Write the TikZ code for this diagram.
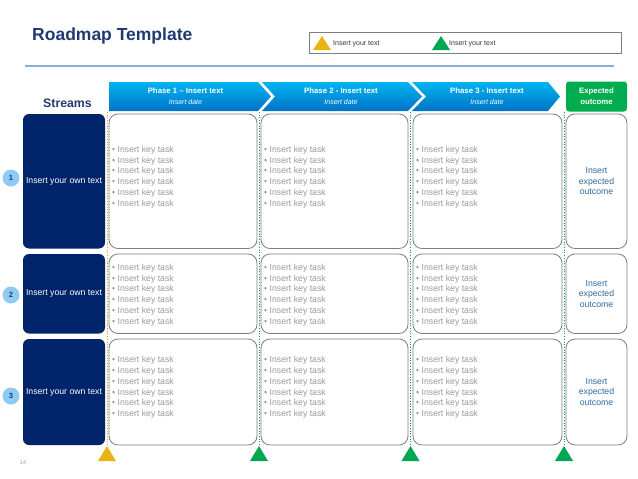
\documentclass[tikz,border=0pt]{standalone}
\usepackage{fontspec}
\setmainfont{Liberation Sans}
\usepackage{tikz}
\usetikzlibrary{positioning}

\definecolor{navy}{HTML}{002469}
\definecolor{titleblue}{HTML}{1F3A70}
\definecolor{ruleblue}{HTML}{8FAADC}
\definecolor{phasetop}{HTML}{00B4F0}
\definecolor{phasebot}{HTML}{0072C6}
\definecolor{outgreen}{HTML}{00AD4E}
\definecolor{boxgray}{HTML}{7F7F7F}
\definecolor{taskgray}{HTML}{9A9A9A}
\definecolor{outblue}{HTML}{2F6AA3}
\definecolor{circblue}{HTML}{8DCBF5}
\definecolor{gold}{HTML}{EBB312}
\definecolor{markgreen}{HTML}{00A651}
\definecolor{dotgold}{HTML}{C9A227}

\newcommand{\keytasks}{\textbullet\ Insert key task\\\textbullet\ Insert key task\\\textbullet\ Insert key task\\\textbullet\ Insert key task\\\textbullet\ Insert key task\\\textbullet\ Insert key task}

\begin{document}
\begin{tikzpicture}[x=1pt, y=-1pt,
  navybox/.style={fill=navy, rounded corners=6pt, text=white, minimum width=82pt,
    font=\fontsize{8.7}{10.8}\selectfont, inner sep=0pt, outer sep=0pt},
  taskbox/.style={draw=boxgray, line width=0.8pt, rounded corners=9pt, fill=white, inner sep=0pt},
  tasklist/.style={anchor=west, align=left, text=taskgray, font=\fontsize{8.7}{10.8}\selectfont, inner sep=0pt},
  outcomebox/.style={taskbox, minimum width=61pt, align=center, text=outblue, font=\fontsize{8.7}{10.7}\selectfont},
  phasetext/.style={text=white, font=\bfseries\fontsize{7.8}{9}\selectfont, inner sep=0pt},
  datetext/.style={text=white, font=\itshape\fontsize{7}{8}\selectfont, inner sep=0pt},
  numcircle/.style={circle, fill=circblue, text=titleblue, font=\bfseries\fontsize{7.5}{8}\selectfont, minimum size=17pt, inner sep=0pt},
  phase/.style={top color=phasetop, bottom color=phasebot},
  legendtext/.style={anchor=west, text=black!80, font=\fontsize{7}{8}\selectfont, inner sep=0pt},
]
\useasboundingbox (0,0) rectangle (638,479);

% title and rule
\node[anchor=base west, inner sep=0pt, text=titleblue, font=\bfseries\fontsize{17.5}{20}\selectfont] (title) at (32,40) {Roadmap Template};
\draw[ruleblue, line width=1.6pt] (25,66) -- (614,66);

% legend
\node[draw=boxgray, line width=0.6pt, minimum width=312pt, minimum height=21pt, inner sep=0pt] (legend) at (465,42.5) {};
\fill[gold] (313,50) -- (322,36) -- (331,50) -- cycle;
\node[legendtext] (lg1) at (333,44) {Insert your text};
\fill[markgreen] (432,50) -- (441,36) -- (450,50) -- cycle;
\node[legendtext] (lg2) at (449,44) {Insert your text};

% phases
\path[phase] (109,82) -- (258,82) -- (271,96.5) -- (258,111) -- (109,111) -- cycle;
\path[phase] (262,82) -- (408,82) -- (422,96.5) -- (408,111) -- (262,111) -- (275,96.5) -- cycle;
\path[phase] (412,82) -- (548,82) -- (560,96.5) -- (548,111) -- (412,111) -- (426,96.5) -- cycle;
\node[phasetext] (ph1) at (185.5,91) {Phase 1 – Insert text};
\node[datetext] (dt1) at (185.5,102) {Insert date};
\node[phasetext] (ph2) at (341,91) {Phase 2 - Insert text};
\node[datetext] (dt2) at (341,102) {Insert date};
\node[phasetext] (ph3) at (487,91) {Phase 3 - Insert text};
\node[datetext] (dt3) at (487,102) {Insert date};
\node[fill=outgreen, rounded corners=3pt, minimum width=61pt, minimum height=30pt, inner sep=0pt,
  text=white, align=center, font=\bfseries\fontsize{7.8}{11}\selectfont] (expected) at (596.5,96.5) {Expected\\outcome};

\node[anchor=base, inner sep=0pt, text=titleblue, font=\bfseries\fontsize{12.3}{14}\selectfont] (streams) at (67.5,107) {Streams};

% milestones
\coordinate (m1) at (107,446);
\coordinate (m2) at (259,446);
\coordinate (m3) at (410.5,446);
\coordinate (m4) at (564,446);
\draw[dotgold, dotted, line width=0.7pt] (107,112) -- (m1);
\draw[markgreen, dotted, line width=0.7pt] (259,112) -- (m2);
\draw[markgreen, dotted, line width=0.7pt] (410.5,112) -- (m3);
\draw[markgreen, dotted, line width=0.7pt] (564,112) -- (m4);
\fill[gold] (98,461) -- (m1) -- (116,461) -- cycle;
\fill[markgreen] (250,461) -- (m2) -- (268,461) -- cycle;
\fill[markgreen] (401.5,461) -- (m3) -- (419.5,461) -- cycle;
\fill[markgreen] (555,461) -- (m4) -- (573,461) -- cycle;

% stream 1
\node[numcircle] (n1) at (11,178) {1};
\node[navybox, minimum height=134.5pt] (s1) at (64,181.25) {Insert your own text};
\node[taskbox, minimum width=148pt, minimum height=134.5pt] (p11) at (183,181.25) {};
\node[taskbox, minimum width=147pt, minimum height=134.5pt] (p12) at (334.5,181.25) {};
\node[taskbox, minimum width=149pt, minimum height=134.5pt] (p13) at (487.5,181.25) {};
\node[outcomebox, minimum height=134.5pt] (o1) at (596.5,181.25) {Insert\\expected\\outcome};
\node[tasklist] (k11) at (112,177) {\keytasks};
\node[tasklist] (k12) at (264,177) {\keytasks};
\node[tasklist] (k13) at (416,177) {\keytasks};

% stream 2
\node[numcircle] (n2) at (11,295) {2};
\node[navybox, minimum height=79.5pt] (s2) at (64,293.75) {Insert your own text};
\node[taskbox, minimum width=148pt, minimum height=79.5pt] (p21) at (183,293.75) {};
\node[taskbox, minimum width=147pt, minimum height=79.5pt] (p22) at (334.5,293.75) {};
\node[taskbox, minimum width=149pt, minimum height=79.5pt] (p23) at (487.5,293.75) {};
\node[outcomebox, minimum height=79.5pt] (o2) at (596.5,293.75) {Insert\\expected\\outcome};
\node[tasklist] (k21) at (112,295) {\keytasks};
\node[tasklist] (k22) at (264,295) {\keytasks};
\node[tasklist] (k23) at (416,295) {\keytasks};

% stream 3
\node[numcircle] (n3) at (11,396) {3};
\node[navybox, minimum height=106pt] (s3) at (64,392) {Insert your own text};
\node[taskbox, minimum width=148pt, minimum height=106pt] (p31) at (183,392) {};
\node[taskbox, minimum width=147pt, minimum height=106pt] (p32) at (334.5,392) {};
\node[taskbox, minimum width=149pt, minimum height=106pt] (p33) at (487.5,392) {};
\node[outcomebox, minimum height=106pt] (o3) at (596.5,392) {Insert\\expected\\outcome};
\node[tasklist] (k31) at (112,387.5) {\keytasks};
\node[tasklist] (k32) at (264,387.5) {\keytasks};
\node[tasklist] (k33) at (416,387.5) {\keytasks};

% page number
\node[inner sep=0pt, text=black!35, font=\fontsize{6}{7}\selectfont] (page) at (23,462) {14};

\end{tikzpicture}
\end{document}
